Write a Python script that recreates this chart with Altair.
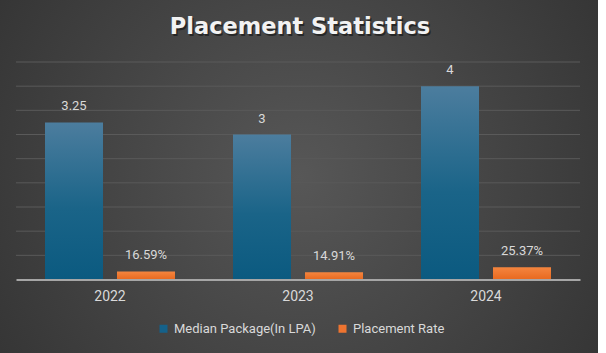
import altair as alt
import pandas as pd

years = ["2022", "2023", "2024"]
series = ["Median Package(In LPA)", "Placement Rate"]
median_package = [3.25, 3, 4]
placement_rate = [0.1659, 0.1491, 0.2537]
grid_values = [0.5, 1.0, 1.5, 2.0, 2.5, 3.0, 3.5, 4.0, 4.5]
title_text = "Placement Statistics"

df = pd.DataFrame({
    "year": years * 2,
    "series": [series[0]] * 3 + [series[1]] * 3,
    "value": median_package + placement_rate,
})

W, H = 564, 217.5
LABEL_COLOR = "#d9d9d9"
FONT = "Roboto"

yscale = alt.Scale(domain=[0, 4.5], nice=False, zero=True)
x_enc = alt.X(
    "year:N",
    sort=years,
    scale=alt.Scale(paddingInner=0, paddingOuter=0),
    axis=alt.Axis(title=None, labelAngle=0, domainColor="#a6a6a6", domainWidth=2,
                  ticks=False, labelColor=LABEL_COLOR, labelFontSize=14, labelFont=FONT,
                  labelPadding=10, zindex=1, grid=False),
)
xoff_enc = alt.XOffset("series:N", scale=alt.Scale(domain=series, paddingInner=0.1944,
                                                     paddingOuter=0.4028))

bg = alt.Chart(alt.Data(values=[{"a": 1}])).mark_rect(
    fill=alt.RadialGradient(
        gradient="radial",
        stops=[alt.GradientStop(offset=0, color="#575757"),
               alt.GradientStop(offset=1, color="#2c2c2c")],
        x1=0.5, y1=0.5, r1=0, x2=0.5, y2=0.5, r2=0.75,
    )
).encode(x=alt.value(-16), x2=alt.value(582), y=alt.value(-62), y2=alt.value(291.5))

grid = alt.Chart(pd.DataFrame({"v": grid_values})).mark_rule(
    color="#5a5a5a", strokeWidth=1
).encode(y=alt.Y("v:Q", scale=yscale, axis=None))

base = alt.Chart(df)

blue_bars = base.transform_filter(alt.datum.series == series[0]).mark_bar(
    fill=alt.LinearGradient(
        gradient="linear",
        stops=[alt.GradientStop(offset=0, color="#4c7d9e"),
               alt.GradientStop(offset=0.55, color="#1a6488"),
               alt.GradientStop(offset=1, color="#0b5a80")],
        x1=0, x2=0, y1=0, y2=1,
    )
).encode(x=x_enc, xOffset=xoff_enc, y=alt.Y("value:Q", scale=yscale, axis=None))

orange_bars = base.transform_filter(alt.datum.series == series[1]).mark_bar(
    fill=alt.LinearGradient(
        gradient="linear",
        stops=[alt.GradientStop(offset=0, color="#f4853f"),
               alt.GradientStop(offset=1, color="#e8691f")],
        x1=0, x2=0, y1=0, y2=1,
    )
).encode(x=x_enc, xOffset=xoff_enc, y=alt.Y("value:Q", scale=yscale, axis=None))

labels = base.transform_calculate(
    label=f"datum.series == '{series[0]}' ? format(datum.value, '~g') : format(datum.value, '.2%')"
).mark_text(dy=-16, baseline="middle", color=LABEL_COLOR, fontSize=13, font=FONT).encode(
    x=x_enc, xOffset=xoff_enc, y=alt.Y("value:Q", scale=yscale, axis=None), text="label:N"
)

legend_layer = base.mark_square(opacity=0, size=1).encode(
    x=x_enc,
    y=alt.Y("value:Q", scale=yscale, axis=None),
    color=alt.Color("series:N", scale=alt.Scale(domain=series, range=["#14618a", "#ee7430"]),
                    legend=alt.Legend(orient="none", legendX=141, legendY=260,
                                      direction="horizontal", title=None,
                                      labelColor=LABEL_COLOR, labelFontSize=13, labelFont=FONT,
                                      symbolType="square", symbolSize=64, symbolOpacity=1,
                                      symbolStrokeWidth=0, columnPadding=20, labelOffset=4)),
)

title_df = alt.Data(values=[{"t": title_text}])
title_shadow = alt.Chart(title_df).mark_text(
    fontSize=22.5, font="DejaVu Sans", fontWeight="bold", color="#000000", opacity=0.45,
    baseline="alphabetic", align="center"
).encode(x=alt.value(285.5), y=alt.value(-26.5), text="t:N")
title = alt.Chart(title_df).mark_text(
    fontSize=22.5, font="DejaVu Sans", fontWeight="bold", color="#f2f2f2",
    baseline="alphabetic", align="center"
).encode(x=alt.value(284), y=alt.value(-28), text="t:N")

chart = alt.layer(
    bg, grid, blue_bars, orange_bars, labels, legend_layer, title_shadow, title
).properties(
    width=W, height=H,
    autosize=alt.AutoSizeParams(type="none"),
    padding={"left": 16, "top": 62, "right": 26, "bottom": 73.5},
    background="#ffffff",
).configure_view(stroke=None)

chart.save("out.html", embed_options={"renderer": "svg", "actions": False})
